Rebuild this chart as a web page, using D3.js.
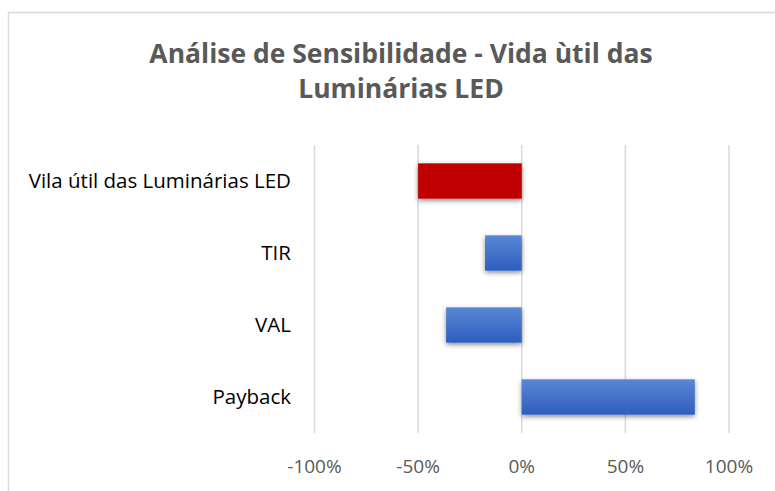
<!DOCTYPE html>
<html>
<head>
<meta charset="utf-8">
<script src="https://cdn.jsdelivr.net/npm/d3@7/dist/d3.min.js"></script>
<style>
  html, body { margin: 0; padding: 0; background: #fff; }
  svg { display: block; font-family: "Open Sans", Lato, sans-serif; }
</style>
</head>
<body>
<svg id="chart" width="775" height="491"></svg>
<script>
const titleLines = ["Análise de Sensibilidade - Vida ùtil das", "Luminárias LED"];
const categories = ["Vila útil das Luminárias LED", "TIR", "VAL", "Payback"];
const values = [-0.50, -0.177, -0.365, 0.835];
const highlight = ["Vila útil das Luminárias LED"];
const tickValues = [-1, -0.5, 0, 0.5, 1];

const svg = d3.select("#chart");
const width = 775;
const height = 491;
const margin = { top: 145, right: 46, bottom: 58, left: 314.5 };

// gradient + shadow for the bars
const defs = svg.append("defs");
const grad = defs.append("linearGradient")
  .attr("id", "blueGrad")
  .attr("x1", 0).attr("y1", 0).attr("x2", 0).attr("y2", 1);
grad.append("stop").attr("offset", "0%").attr("stop-color", "#5a86d4");
grad.append("stop").attr("offset", "100%").attr("stop-color", "#2d5fbe");

const shadow = defs.append("filter")
  .attr("id", "shadow")
  .attr("x", "-20%").attr("y", "-30%").attr("width", "140%").attr("height", "170%");
shadow.append("feDropShadow")
  .attr("dx", 0).attr("dy", 2).attr("stdDeviation", 2.5)
  .attr("flood-color", "#000").attr("flood-opacity", 0.45);

// chart border
svg.append("rect")
  .attr("x", 8.5).attr("y", 12.5)
  .attr("width", 800).attr("height", 500)
  .attr("fill", "none")
  .attr("stroke", "#d9d9d9")
  .attr("stroke-width", 1.5);

const x = d3.scaleLinear()
  .domain([-1, 1])
  .range([margin.left, width - margin.right]);

const y = d3.scaleBand()
  .domain(categories)
  .range([margin.top, height - margin.bottom])
  .paddingInner(0.51)
  .paddingOuter(0.255);

// gridlines
svg.append("g")
  .selectAll("line")
  .data(tickValues)
  .join("line")
  .attr("x1", d => x(d)).attr("x2", d => x(d))
  .attr("y1", margin.top).attr("y2", height - margin.bottom)
  .attr("stroke", "#d9d9d9")
  .attr("stroke-width", 1.5);

// x tick labels
svg.append("g")
  .selectAll("text")
  .data(tickValues)
  .join("text")
  .attr("x", d => x(d))
  .attr("y", 473)
  .attr("text-anchor", "middle")
  .attr("fill", "#595959")
  .attr("font-size", 19)
  .text(d => d3.format(".0%")(d).replace("−", "-"));

// bars
svg.append("g")
  .selectAll("rect")
  .data(categories)
  .join("rect")
  .attr("x", (d, i) => x(Math.min(0, values[i])))
  .attr("y", d => y(d))
  .attr("width", (d, i) => Math.abs(x(values[i]) - x(0)))
  .attr("height", y.bandwidth())
  .attr("fill", d => highlight.includes(d) ? "#c00000" : "url(#blueGrad)")
  .attr("filter", "url(#shadow)");

// category labels
svg.append("g")
  .selectAll("text")
  .data(categories)
  .join("text")
  .attr("x", 291)
  .attr("y", d => y(d) + y.bandwidth() / 2 + 7)
  .attr("text-anchor", "end")
  .attr("fill", "#000")
  .attr("font-size", 20.5)
  .text(d => d);

// title
svg.append("g")
  .selectAll("text")
  .data(titleLines)
  .join("text")
  .attr("x", 401)
  .attr("y", (d, i) => 63 + i * 35)
  .attr("text-anchor", "middle")
  .attr("fill", "#595959")
  .attr("font-size", 26.5)
  .attr("font-weight", "bold")
  .text(d => d);
</script>
</body>
</html>
